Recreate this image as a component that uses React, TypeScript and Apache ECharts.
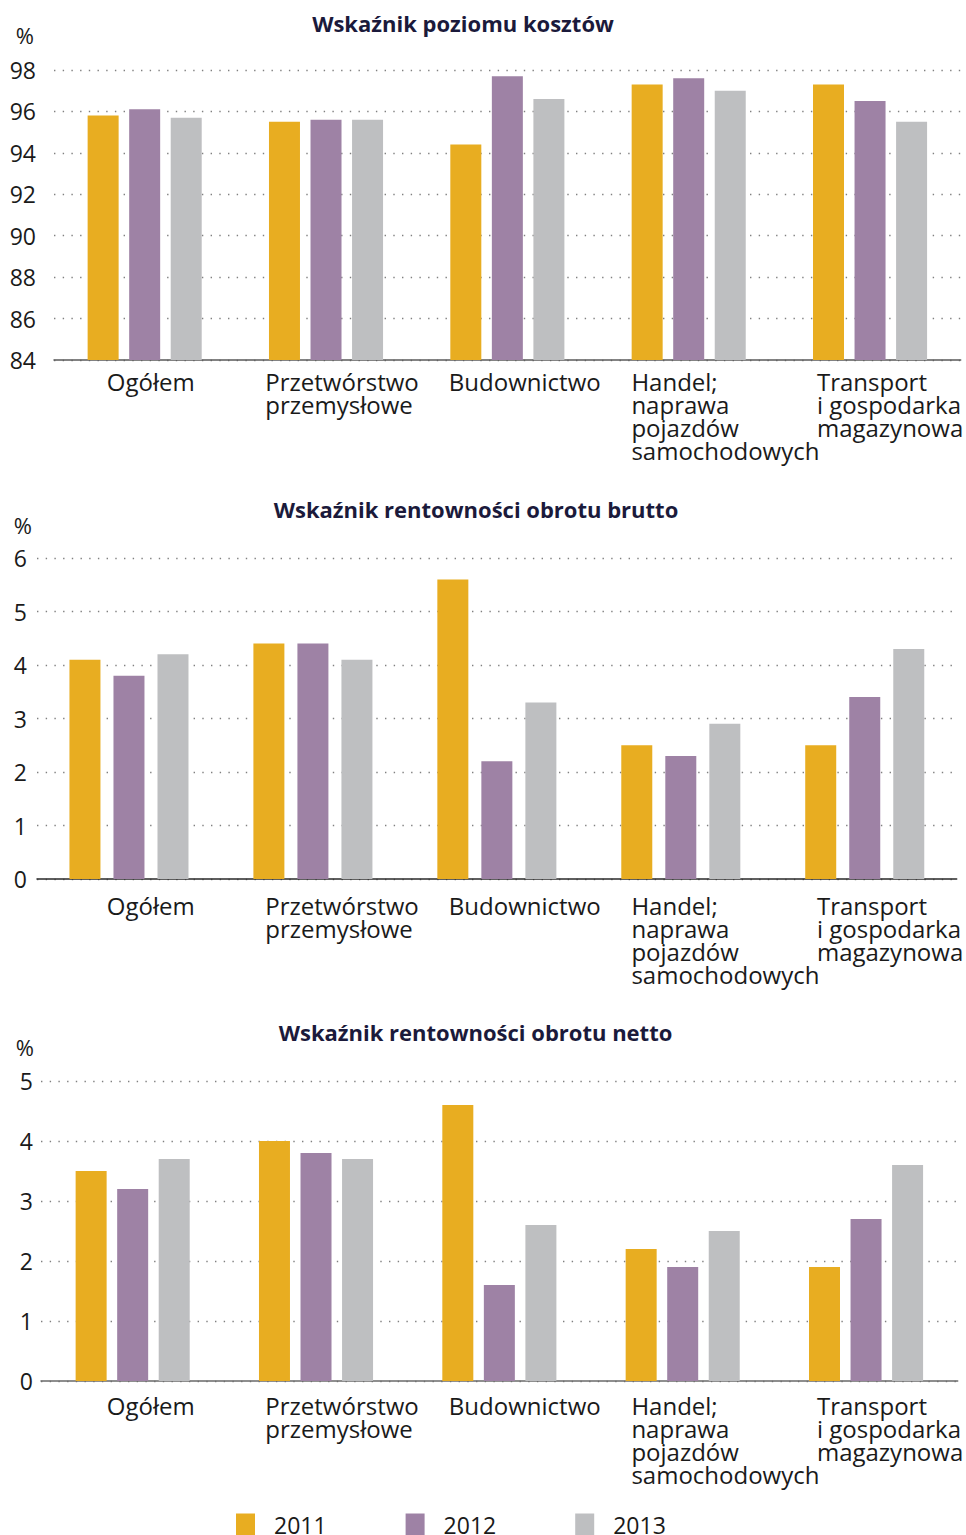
import React, { useEffect, useRef } from "react";
import * as echarts from "echarts";

const categories = [
  "Ogółem",
  "Przetwórstwo\nprzemysłowe",
  "Budownictwo",
  "Handel;\nnaprawa\npojazdów\nsamochodowych",
  "Transport\ni gospodarka\nmagazynowa",
];
const years = ["2011", "2012", "2013"];
const titles = [
  "Wskaźnik poziomu kosztów",
  "Wskaźnik rentowności obrotu brutto",
  "Wskaźnik rentowności obrotu netto",
];

const koszty2011 = [95.8, 95.5, 94.4, 97.3, 97.3];
const koszty2012 = [96.1, 95.6, 97.7, 97.6, 96.5];
const koszty2013 = [95.7, 95.6, 96.6, 97.0, 95.5];

const brutto2011 = [4.1, 4.4, 5.6, 2.5, 2.5];
const brutto2012 = [3.8, 4.4, 2.2, 2.3, 3.4];
const brutto2013 = [4.2, 4.1, 3.3, 2.9, 4.3];

const netto2011 = [3.5, 4.0, 4.6, 2.2, 1.9];
const netto2012 = [3.2, 3.8, 1.6, 1.9, 2.7];
const netto2013 = [3.7, 3.7, 2.6, 2.5, 3.6];

const kosztyScale = { min: 84, max: 98, interval: 2 };
const bruttoScale = { min: 0, max: 6, interval: 1 };
const nettoScale = { min: 0, max: 5, interval: 1 };

const colors = ["#E8AD21", "#9E82A5", "#BEBFC1"];
const FONT = "'Open Sans', 'Noto Sans', sans-serif";
const TEXT = "#1a1a1a";

// layout (pixels)
const labelStartX = [107, 266, 450, 633, 819];
const panels = [
  {
    title: titles[0], data: [koszty2011, koszty2012, koszty2013], scale: kosztyScale,
    left: 54, width: 909, top: 70, height: 290,
    yMargin: 18, xMargin: 10, barGap: "34%", axisColor: "#5a5a5a",
    nameGap: 35, namePad: 20, titleX: 463, titleTop: 11.5,
  },
  {
    title: titles[1], data: [brutto2011, brutto2012, brutto2013], scale: bruttoScale,
    left: 37, width: 922, top: 558, height: 321,
    yMargin: 10, xMargin: 15, barGap: "42%", axisColor: "#2a2a2a",
    nameGap: 33, namePad: 5, titleX: 476, titleTop: 497.5,
  },
  {
    title: titles[2], data: [netto2011, netto2012, netto2013], scale: nettoScale,
    left: 41, width: 919, top: 1081, height: 300,
    yMargin: 8, xMargin: 13, barGap: "34%", axisColor: "#6a6a6a",
    nameGap: 34, namePad: 7, titleX: 475.5, titleTop: 1020.5,
  },
];

function buildOption() {
  const title: any[] = [];
  const grid: any[] = [];
  const xAxis: any[] = [];
  const yAxis: any[] = [];
  const series: any[] = [];

  panels.forEach((p, gi) => {
    title.push({
      text: p.title,
      left: p.titleX,
      top: p.titleTop,
      textAlign: "center",
      padding: 0,
      textStyle: { fontFamily: FONT, fontWeight: "bold", fontSize: 22, color: "#1b1a3b" },
    });
    grid.push({ left: p.left, top: p.top, width: p.width, height: p.height, containLabel: false });

    const band = p.width / categories.length;
    const rich: any = {};
    categories.forEach((_, i) => {
      const center = p.left + band * (i + 0.5);
      rich["c" + i] = {
        width: Math.max(1, center - labelStartX[i]),
        align: "left",
        fontFamily: FONT,
        fontSize: 24,
        lineHeight: 23,
        color: TEXT,
      };
    });

    xAxis.push({
      type: "category",
      gridIndex: gi,
      data: categories,
      axisLine: { show: true, lineStyle: { color: p.axisColor, width: 1.5 } },
      axisTick: { show: false },
      axisLabel: {
        interval: 0,
        align: "right",
        verticalAlign: "top",
        margin: p.xMargin,
        formatter: (value: string, index: number) =>
          value.split("\n").map((l) => `{c${index}|${l}}`).join("\n"),
        rich,
      },
    });

    yAxis.push({
      type: "value",
      gridIndex: gi,
      min: p.scale.min,
      max: p.scale.max,
      interval: p.scale.interval,
      name: "%",
      nameLocation: "end",
      nameGap: p.nameGap,
      nameTextStyle: {
        fontFamily: FONT,
        fontSize: 22,
        color: TEXT,
        align: "right",
        verticalAlign: "middle",
        padding: [0, p.namePad, 0, 0],
      },
      axisLine: { show: false },
      axisTick: { show: false },
      axisLabel: { margin: p.yMargin, fontFamily: FONT, fontSize: 23, color: TEXT },
      splitLine: { show: true, lineStyle: { color: "#808080", width: 1.4, type: [1.4, 7.3] } },
    });

    p.data.forEach((vals, si) => {
      series.push({
        type: "bar",
        name: years[si],
        xAxisIndex: gi,
        yAxisIndex: gi,
        data: vals,
        barWidth: 31,
        barGap: p.barGap,
        itemStyle: { color: colors[si] },
        emphasis: { disabled: true },
      });
    });
  });

  return {
    animation: false,
    backgroundColor: "#ffffff",
    title,
    grid,
    xAxis,
    yAxis,
    series,
    legend: {
      data: years,
      left: 236,
      top: 1513,
      itemWidth: 19,
      itemHeight: 22,
      itemGap: 79,
      icon: "rect",
      padding: 0,
      textStyle: { fontFamily: FONT, fontSize: 23, color: TEXT, padding: [0, 0, 0, 14] },
    },
  };
}

export default function App() {
  const ref = useRef<HTMLDivElement>(null);
  useEffect(() => {
    if (!ref.current) return;
    const chart = echarts.init(ref.current, undefined, { renderer: "svg" });
    chart.setOption(buildOption() as any);
    return () => chart.dispose();
  }, []);
  return (
    <div
      ref={ref}
      style={{ position: "absolute", left: 0, top: 0, width: 966, height: 1535, background: "#fff" }}
    />
  );
}
